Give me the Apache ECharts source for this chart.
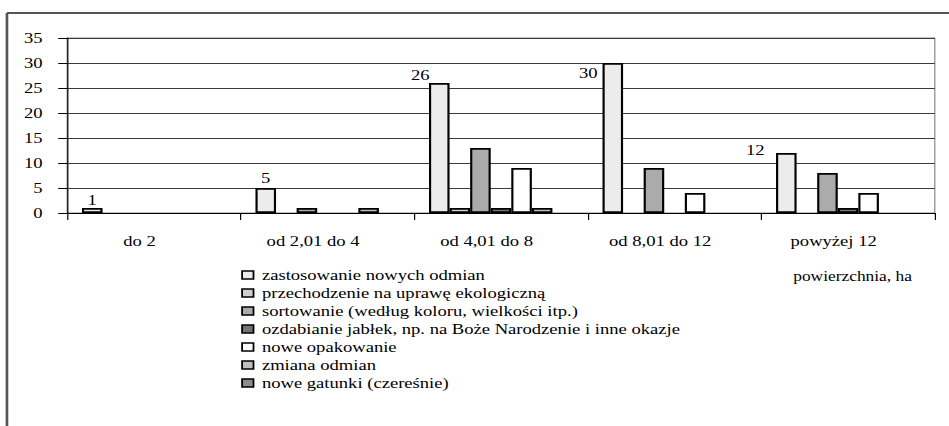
<!DOCTYPE html>
<html>
<head>
<meta charset="utf-8">
<script src="https://cdn.jsdelivr.net/npm/echarts@6/dist/echarts.min.js"></script>
<style>
html,body{margin:0;padding:0;background:#fff;overflow:hidden;}
#wrap{width:949px;height:426px;overflow:hidden;}
#chart{width:791px;height:426px;transform:scaleX(1.2);transform-origin:0 0;}
</style>
</head>
<body>
<div id="wrap"><div id="chart"></div></div>
<script>
const categories = ['do 2', 'od 2,01 do 4', 'od 4,01 do 8', 'od 8,01 do 12', 'powyżej 12'];
const seriesNames = [
  'zastosowanie nowych odmian',
  'przechodzenie na uprawę ekologiczną',
  'sortowanie (według koloru, wielkości itp.)',
  'ozdabianie jabłek, np. na Boże Narodzenie i inne okazje',
  'nowe opakowanie',
  'zmiana odmian',
  'nowe gatunki (czereśnie)'
];
const zastosowanie = [1, 5, 26, 30, 12];
const przechodzenie = [0, 0, 1, 0, 0];
const sortowanie = [0, 1, 13, 9, 8];
const ozdabianie = [0, 0, 1, 0, 1];
const opakowanie = [0, 0, 9, 4, 4];
const zmiana = [0, 1, 1, 0, 0];
const gatunki = [0, 0, 0, 0, 0];
const yTicks = [0, 5, 10, 15, 20, 25, 30, 35];

const seriesValues = [zastosowanie, przechodzenie, sortowanie, ozdabianie, opakowanie, zmiana, gatunki];
const colors = ['#ececec', '#cfcfcf', '#ababab', '#747474', '#ffffff', '#c0c0c0', '#8c8c8c'];
// label offsets (style) for the first series' value labels
const labelOffsets = [[0, 0], [0, -2], [-15.8, 0], [-20.4, 18], [-25.8, 5]];

const FONT = 'Liberation Serif, Times New Roman, serif';
const FS = 15.5;

const series = seriesValues.map((vals, si) => ({
  name: seriesNames[si],
  type: 'bar',
  barGap: '0%',
  barCategoryGap: '17%',
  itemStyle: { color: colors[si], borderColor: '#000', borderWidth: 1.8 },
  emphasis: { disabled: true },
  data: vals.map((v, i) => {
    const d = { value: v === 0 ? '-' : v };
    if (si === 0) {
      d.label = { show: true, position: 'top', distance: 0, offset: labelOffsets[i],
        color: '#000', fontFamily: FONT, fontSize: FS };
    }
    return d;
  })
}));

const chart = echarts.init(document.getElementById('chart'), null, { renderer: 'svg' });
chart.setOption({
  animation: false,
  backgroundColor: '#fff',
  textStyle: { fontFamily: FONT },
  grid: { left: 56, right: 12, top: 38, height: 175, show: true, borderColor: '#888', borderWidth: 1 },
  title: {
    text: 'powierzchnia, ha', left: 656, top: 264,
    textStyle: { fontFamily: FONT, fontSize: 14.5, fontWeight: 'normal', color: '#000' }
  },
  legend: {
    orient: 'vertical', left: 201, top: 266, padding: 0, itemGap: 0,
    itemWidth: 9.5, itemHeight: 8, icon: 'rect',
    selectedMode: false,
    itemStyle: { borderColor: '#000', borderWidth: 1.5 },
    textStyle: { fontFamily: FONT, fontSize: FS, color: '#000', lineHeight: 18, padding: [0, 0, 0, 2] },
    data: seriesNames
  },
  xAxis: {
    type: 'category', data: categories, boundaryGap: true,
    axisLine: { lineStyle: { color: '#000', width: 1 } },
    axisTick: { show: true, alignWithLabel: false, length: 7, lineStyle: { color: '#000' } },
    axisLabel: { margin: 20, color: '#000', fontFamily: FONT, fontSize: FS, padding: [0, 24, 0, 0], interval: 0 }
  },
  yAxis: {
    type: 'value', min: yTicks[0], max: yTicks[yTicks.length - 1], interval: 5,
    axisLine: { show: true, lineStyle: { color: '#000', width: 1 } },
    axisTick: { show: true, length: 7.5, lineStyle: { color: '#000' } },
    axisLabel: { margin: 20.5, color: '#000', fontFamily: FONT, fontSize: FS },
    splitLine: { show: true, lineStyle: { color: '#3a3a3a', width: 1 } }
  },
  graphic: [
    { type: 'line', shape: { x1: 5.8, y1: 13, x2: 800, y2: 13 }, style: { stroke: '#555', lineWidth: 2 }, silent: true },
    { type: 'line', shape: { x1: 5.8, y1: 13, x2: 5.8, y2: 440 }, style: { stroke: '#555', lineWidth: 2.2 }, silent: true }
  ],
  series: series
});
</script>
</body>
</html>
